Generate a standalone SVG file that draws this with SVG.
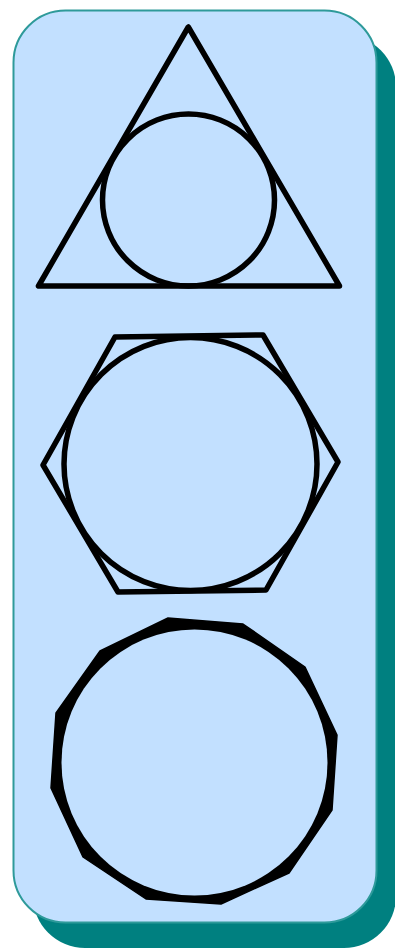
<svg xmlns="http://www.w3.org/2000/svg" width="395" height="949" viewBox="0 0 395 949">
<style>
.ln{fill:none;stroke:#000;stroke-width:5.5;stroke-linejoin:round}
</style>
<g id="panel">
<rect x="33" y="35" width="363" height="913" rx="52" fill="#008080"/>
<rect x="13.5" y="10.5" width="363" height="912" rx="52" fill="#C2E0FF" stroke="#2E9A9A" stroke-width="2"/>
</g>
<g id="triangle">
<polygon class="ln" points="188.3,27 38.5,286 339.5,286"/>
<circle class="ln" cx="188.5" cy="200" r="86"/>
</g>
<g id="hexagon">
<polygon class="ln" stroke-width="5" points="115,337 263,335 338,462 266,590 118,592 43,465"/>
<circle class="ln" cx="190.5" cy="464" r="126.5"/>
</g>
<g id="dodecagon">
<polygon fill="#000" stroke="#000" stroke-width="1.5" stroke-linejoin="round" points="168,618 243,624 305,667 337,735 332,810 289,873 221,904 146,899 83,857 51,788 56,713 100,651"/>
<circle cx="194.5" cy="762.5" r="133" fill="#C2E0FF"/>
</g>
</svg>
